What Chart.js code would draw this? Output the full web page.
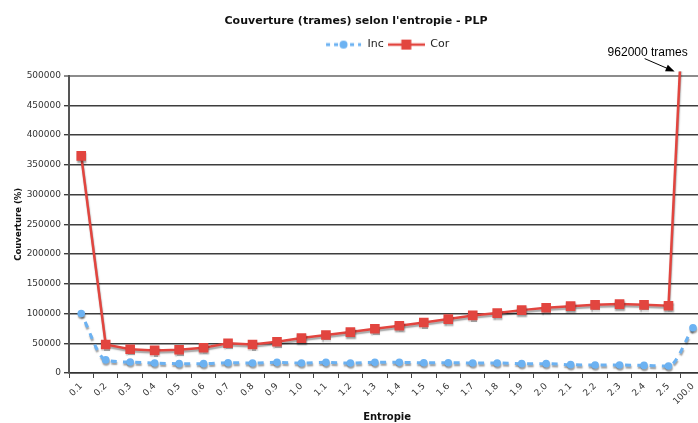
<!DOCTYPE html>
<html>
<head>
<meta charset="utf-8">
<title>Couverture (trames) selon l'entropie - PLP</title>
<script src="https://cdn.jsdelivr.net/npm/chart.js@4.4.1/dist/chart.umd.min.js"></script>
<style>
  html, body { margin: 0; padding: 0; background: #fff; overflow: hidden; }
  #wrap { position: absolute; left: 0; top: 0; width: 712px; height: 423px; }
</style>
</head>
<body>
<div id="wrap"><canvas id="chart" width="712" height="423"></canvas></div>
<script>
// entropy buckets (last bucket holds everything above 2.5)
const entropie = ['0.1', '0.2', '0.3', '0.4', '0.5', '0.6', '0.7', '0.8', '0.9', '1.0',
                  '1.1', '1.2', '1.3', '1.4', '1.5', '1.6', '1.7', '1.8', '1.9', '2.0',
                  '2.1', '2.2', '2.3', '2.4', '2.5', '100.0'];

const inc = [100000, 22000, 18500, 16800, 15700, 15700, 17300, 16800, 17900, 16800,
             17900, 16800, 17900, 17900, 17300, 17300, 16800, 16800, 15700, 15700,
             14000, 13400, 13400, 12800, 11700, 76000];

const cor = [365000, 48000, 40000, 38000, 39000, 42500, 50000, 48000, 52500, 58700,
             63800, 68800, 74400, 79400, 85000, 90600, 96800, 100700, 105700, 109600,
             112400, 114600, 115800, 114600, 113000, 962000];

const yMax = 500000;
const yStep = 50000;
const peakNote = '962000 trames';

const BLUE = '#6cb2f2';
const RED = '#e2453f';
const FONT = '"DejaVu Sans", Verdana, sans-serif';

Chart.defaults.font.family = FONT;
Chart.defaults.color = '#222';

// little line + marker glyphs for the legend
function legendGlyph(kind) {
    const c = document.createElement('canvas');
    c.width = 37; c.height = 12;
    const g = c.getContext('2d');
    g.lineCap = 'butt';
    if (kind === 'inc') {
        g.strokeStyle = BLUE;
        g.lineWidth = 3;
        g.setLineDash([4, 4]);
        g.beginPath(); g.moveTo(1, 6); g.lineTo(36, 6); g.stroke();
        g.fillStyle = BLUE;
        g.beginPath(); g.arc(18.5, 6, 4, 0, Math.PI * 2); g.fill();
    } else {
        g.strokeStyle = RED;
        g.lineWidth = 2.5;
        g.beginPath(); g.moveTo(0, 6); g.lineTo(37, 6); g.stroke();
        g.fillStyle = RED;
        g.fillRect(13.5, 1, 10, 10);
    }
    return c;
}
const glyphs = [legendGlyph('inc'), legendGlyph('cor')];

// soft grey drop shadow under the series, like the old office charts
const lineShadow = {
    id: 'lineShadow',
    beforeDatasetDraw(chart) {
        const ctx = chart.ctx;
        ctx.save();
        ctx.shadowColor = 'rgba(0, 0, 0, 0.38)';
        ctx.shadowOffsetX = 0.5;
        ctx.shadowOffsetY = 2;
        ctx.shadowBlur = 1.5;
    },
    afterDatasetDraw(chart) {
        chart.ctx.restore();
    }
};

// callout for the Cor value that runs off the top of the axis
const peakCallout = {
    id: 'peakCallout',
    afterDraw(chart) {
        const ctx = chart.ctx;
        const meta = chart.getDatasetMeta(1);
        const n = meta.data.length;
        const a = meta.data[n - 2], b = meta.data[n - 1];
        const top = chart.chartArea.top;
        const t = (a.y - top) / (a.y - b.y);
        const hitX = a.x + (b.x - a.x) * t;

        const tip = { x: hitX - 5, y: top - 4 };
        const tail = { x: tip.x - 30, y: tip.y - 13 };
        const ang = Math.atan2(tip.y - tail.y, tip.x - tail.x);

        ctx.save();
        ctx.strokeStyle = '#000';
        ctx.fillStyle = '#000';
        ctx.lineWidth = 1;
        ctx.beginPath();
        ctx.moveTo(tail.x, tail.y);
        ctx.lineTo(tip.x - 7 * Math.cos(ang), tip.y - 7 * Math.sin(ang));
        ctx.stroke();
        ctx.beginPath();
        ctx.moveTo(tip.x, tip.y);
        ctx.lineTo(tip.x - 9 * Math.cos(ang) + 3.5 * Math.sin(ang), tip.y - 9 * Math.sin(ang) - 3.5 * Math.cos(ang));
        ctx.lineTo(tip.x - 9 * Math.cos(ang) - 3.5 * Math.sin(ang), tip.y - 9 * Math.sin(ang) + 3.5 * Math.cos(ang));
        ctx.closePath();
        ctx.fill();

        ctx.font = '12px "Liberation Sans", Arial, sans-serif';
        ctx.textAlign = 'center';
        ctx.textBaseline = 'middle';
        ctx.fillText(peakNote, tip.x - 27, top - 23);
        ctx.restore();
    }
};

const ctx = document.getElementById('chart').getContext('2d');
new Chart(ctx, {
    type: 'line',
    data: {
        labels: entropie,
        datasets: [{
            label: 'Inc',
            data: inc,
            borderColor: BLUE,
            backgroundColor: BLUE,
            borderWidth: 3,
            borderDash: [6, 6.25],
            borderDashOffset: 3,
            cubicInterpolationMode: 'monotone',
            pointStyle: 'circle',
            pointRadius: 3.8,
            pointBorderWidth: 0,
            clip: { left: 10, top: 4, right: 20, bottom: 10 }
        }, {
            label: 'Cor',
            data: cor,
            borderColor: RED,
            backgroundColor: RED,
            borderWidth: 2.5,
            tension: 0,
            pointStyle: 'rect',
            pointRadius: 6.8,
            pointBorderWidth: 0,
            clip: { left: 10, top: 4, right: 20, bottom: 10 }
        }]
    },
    options: {
        responsive: false,
        animation: false,
        devicePixelRatio: 1,
        layout: { padding: 0 },
        plugins: {
            title: {
                display: true,
                text: "Couverture (trames) selon l'entropie - PLP",
                font: { size: 11, weight: 'bold' },
                color: '#111',
                padding: { top: 14.4, bottom: 7.5 }
            },
            // empty subtitle used as a spacer between the legend and the plot
            subtitle: {
                display: true,
                text: '',
                weight: 500,
                font: { size: 10, lineHeight: 1 },
                padding: { top: 5.5, bottom: 0 }
            },
            legend: {
                position: 'top',
                fullSize: false,
                labels: {
                    usePointStyle: true,
                    pointStyleWidth: 37,
                    padding: 4,
                    color: '#222',
                    font: { size: 11 },
                    generateLabels(chart) {
                        return Chart.defaults.plugins.legend.labels.generateLabels(chart)
                            .map((item, i) => ({ ...item, pointStyle: glyphs[i] }));
                    }
                }
            },
            tooltip: { enabled: false }
        },
        scales: {
            x: {
                type: 'category',
                offset: true,
                grid: {
                    offset: true,
                    drawOnChartArea: false,
                    tickLength: 5,
                    color: '#444',
                    lineWidth: 1
                },
                border: { color: '#333', width: 1.5 },
                ticks: {
                    autoSkip: false,
                    minRotation: 45,
                    maxRotation: 45,
                    padding: 3,
                    color: '#333',
                    font: { size: 9 }
                },
                title: {
                    display: true,
                    text: 'Entropie',
                    color: '#111',
                    font: { size: 10, weight: 'bold' },
                    padding: 0
                },
                afterFit(scale) {
                    scale.height = 50;
                }
            },
            y: {
                min: 0,
                max: yMax,
                grid: {
                    tickLength: 5,
                    color: c => c.tick && c.tick.value === yMax ? '#8c8c8c' : '#3d3d3d',
                    lineWidth: c => c.tick && c.tick.value === yMax ? 2 : 1.4
                },
                border: { color: '#555', width: 2 },
                ticks: {
                    stepSize: yStep,
                    padding: 3,
                    color: '#333',
                    font: { size: 9 },
                    callback: v => String(v)
                },
                title: {
                    display: true,
                    text: 'Couverture (%)',
                    color: '#111',
                    font: { size: 8.5, weight: 'bold' },
                    padding: { top: 14, bottom: 0 }
                },
                afterFit(scale) {
                    scale.width = 69;
                }
            }
        }
    },
    plugins: [lineShadow, peakCallout]
});
</script>
</body>
</html>
